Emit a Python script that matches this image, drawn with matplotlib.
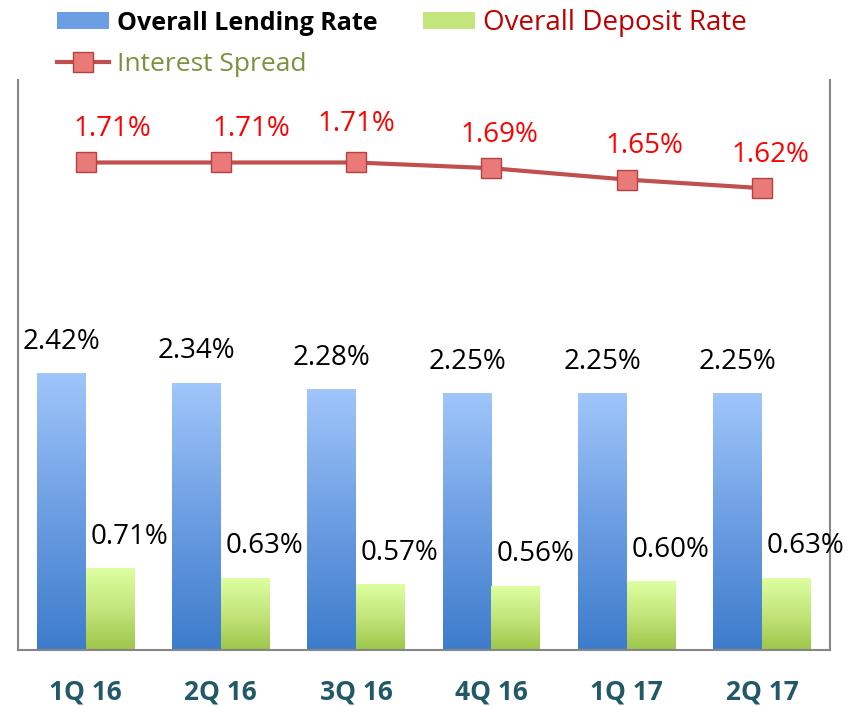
#
#   Lending / deposit rates and interest spread by quarter
#

import numpy as np
import matplotlib.pyplot as plt
from matplotlib.colors import LinearSegmentedColormap
from matplotlib.patches import Patch
from matplotlib.lines import Line2D

plt.rcParams['font.family'] = ['Open Sans', 'DejaVu Sans']

quarters = ["1Q 16", "2Q 16", "3Q 16", "4Q 16", "1Q 17", "2Q 17"]
lending = [2.42, 2.34, 2.28, 2.25, 2.25, 2.25]
deposit = [0.71, 0.63, 0.57, 0.56, 0.60, 0.63]
spread = [1.71, 1.71, 1.71, 1.69, 1.65, 1.62]

BLUE_CM = LinearSegmentedColormap.from_list("blue", ["#3D7CCB", "#6C9EE3", "#A0C6FA"])
GREEN_CM = LinearSegmentedColormap.from_list("green", ["#9DC64A", "#C3E57B", "#DDFFA0"])
LINE_COLOR = "#C0504D"
GRID = "#868686"
WIDTH = 0.36


def gradient_bars(ax, xs, heights, cmap):
    grad = np.linspace(0, 1, 256).reshape(-1, 1)
    bars = ax.bar(xs, heights, WIDTH, color="none", edgecolor="none", zorder=2)
    for r in bars:
        x0, y0 = r.get_x(), r.get_y()
        ax.imshow(grad, extent=[x0, x0 + r.get_width(), y0, y0 + r.get_height()],
                  origin="lower", aspect="auto", cmap=cmap, zorder=2)
    return bars


def main():
    fig = plt.figure(figsize=(8.51, 7.06), dpi=100)
    ax = fig.add_axes([0.021, 0.079, 0.954, 0.808])
    x = np.arange(len(quarters))

    gradient_bars(ax, x - WIDTH / 2, lending, BLUE_CM)
    gradient_bars(ax, x + WIDTH / 2, deposit, GREEN_CM)

    for xi, v in zip(x, lending):
        ax.annotate(f"{v:.2f}%", (xi - WIDTH / 2, v), xytext=(0, 23),
                    textcoords="offset points", ha="center", va="center",
                    fontsize=20, color="black")
    for xi, v in zip(x, deposit):
        ax.annotate(f"{v:.2f}%", (xi + WIDTH / 2, v), xytext=(14, 23),
                    textcoords="offset points", ha="center", va="center",
                    fontsize=20, color="black")

    ax.set_xlim(-0.5, len(quarters) - 0.5)
    ax.set_ylim(0, 5)
    ax.set_xticks(x)
    ax.set_xticklabels(quarters, fontsize=19, fontweight="bold", color="#215968")
    ax.tick_params(axis="x", length=0, pad=20)
    ax.set_yticks([])
    ax.spines["top"].set_visible(False)
    for s in ("left", "right", "bottom"):
        ax.spines[s].set_color(GRID)
        ax.spines[s].set_linewidth(1.5)

    ax2 = ax.twinx()
    ax2.set_ylim(0, 2)
    ax2.plot(x, spread, color=LINE_COLOR, lw=3, marker="s", markersize=14,
             markerfacecolor="#EA7A78", markeredgecolor="#B5413E",
             markeredgewidth=1, zorder=3)
    dx = [19, 22, 0, 6, 13, 6]
    dy = [24, 24, 28, 24, 24, 24]
    for xi, v, ox, oy in zip(x, spread, dx, dy):
        ax2.annotate(f"{v:.2f}%", (xi, v), xytext=(ox, oy),
                     textcoords="offset points", ha="center", va="center",
                     fontsize=20, color="#FF0000")
    ax2.set_yticks([])
    for s in ax2.spines.values():
        s.set_visible(False)

    handles = [
        Patch(facecolor="#6C9EE3", edgecolor="none"),
        Line2D([], [], color=LINE_COLOR, lw=3, marker="s", markersize=14,
               markerfacecolor="#EA7A78", markeredgecolor="#B5413E"),
        Patch(facecolor="#C3E57B", edgecolor="none"),
    ]
    labels = ["Overall Lending Rate", "Interest Spread", "Overall Deposit Rate"]
    leg = fig.legend(handles, labels, loc="upper left", bbox_to_anchor=(0.048, 1.01),
                     ncol=2, frameon=False, fontsize=19, handlelength=1.97,
                     handleheight=0.66, handletextpad=0.3, columnspacing=1.75,
                     labelspacing=0.62, borderpad=0.1)
    txt = leg.get_texts()
    txt[0].set_color("black")
    txt[0].set_fontweight("bold")
    txt[0].set_fontsize(18)
    txt[1].set_color("#77933C")
    txt[2].set_color("#C00000")
    txt[2].set_fontsize(20)

    fig.savefig("out.png", dpi=100)


if __name__ == "__main__":
    main()
